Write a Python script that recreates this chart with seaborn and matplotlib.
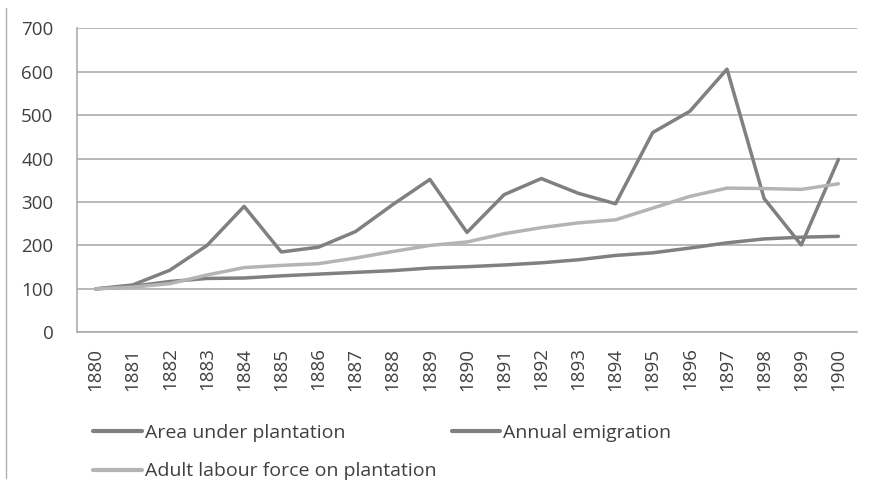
import numpy as np
import pandas as pd
import seaborn as sns
import matplotlib.pyplot as plt
from matplotlib.lines import Line2D

years = [str(y) for y in range(1880, 1901)]
area = [100, 106, 117, 124, 125, 130, 134, 138, 142, 148, 151,
        155, 160, 167, 177, 183, 194, 206, 215, 219, 221]
emigration = [100, 109, 143, 200, 290, 185, 196, 232, 294, 352, 230,
              317, 354, 320, 296, 460, 509, 606, 308, 201, 398]
labour = [100, 104, 112, 132, 149, 154, 158, 171, 186, 200, 208,
          227, 241, 252, 259, 286, 313, 332, 331, 329, 342]
names = ['Area under plantation', 'Annual emigration', 'Adult labour force on plantation']

dark = '#808080'
light = '#b4b4b4'
text_c = '#404040'

df = pd.DataFrame({'year': years * 3,
                   'value': area + emigration + labour,
                   'series': [names[0]] * 21 + [names[1]] * 21 + [names[2]] * 21})

sns.set_style('white')
plt.rcParams['font.family'] = ['Open Sans', 'DejaVu Sans']

fig = plt.figure(figsize=(8.76, 4.9), dpi=100)
ax = fig.add_axes([77 / 876, 1 - 332.3 / 490, (857 - 77) / 876, (332.3 - 28.3) / 490])

sns.lineplot(data=df, x='year', y='value', hue='series',
             palette={names[0]: dark, names[1]: dark, names[2]: light},
             linewidth=2.5, ax=ax, legend=False, sort=False)

ax.set_xlim(-0.5, 20.5)
ax.set_ylim(0, 700)
ax.set_yticks(range(0, 701, 100))
ax.grid(True, axis='y', color='#a6a6a6', linewidth=1.1)
ax.set_axisbelow(True)
ax.set_xlabel('')
ax.set_ylabel('')
for s in ['top', 'right']:
    ax.spines[s].set_visible(False)
ax.spines['left'].set_color('#a6a6a6')
ax.spines['bottom'].set_color('#a6a6a6')
ax.spines['left'].set_linewidth(1.1)
ax.spines['bottom'].set_linewidth(1.1)
ax.tick_params(axis='both', length=0, labelsize=13.5, colors=text_c)
ax.tick_params(axis='y', pad=17)
ax.tick_params(axis='x', pad=11)
plt.setp(ax.get_xticklabels(), rotation=90)

# legend: two columns, the third entry sits alone in column two
handles = [Line2D([], [], color=dark, lw=3),
           Line2D([], [], color=light, lw=3),
           Line2D([], [], color=dark, lw=3)]
labels = [names[0], names[2], names[1]]
fig.legend(handles, labels, loc='upper left', bbox_to_anchor=(93 / 876, 1 - 424 / 490),
           ncol=2, frameon=False, fontsize=14, handlelength=2.5, handletextpad=0.15,
           columnspacing=0.8, labelspacing=1.05, borderpad=0, borderaxespad=0,
           labelcolor=text_c)

fig.add_artist(Line2D([6 / 876, 6 / 876], [1 - 8 / 490, 1 - 478 / 490],
                      color='#b0b0b0', lw=1, transform=fig.transFigure))

fig.savefig('out.png', dpi=100)
